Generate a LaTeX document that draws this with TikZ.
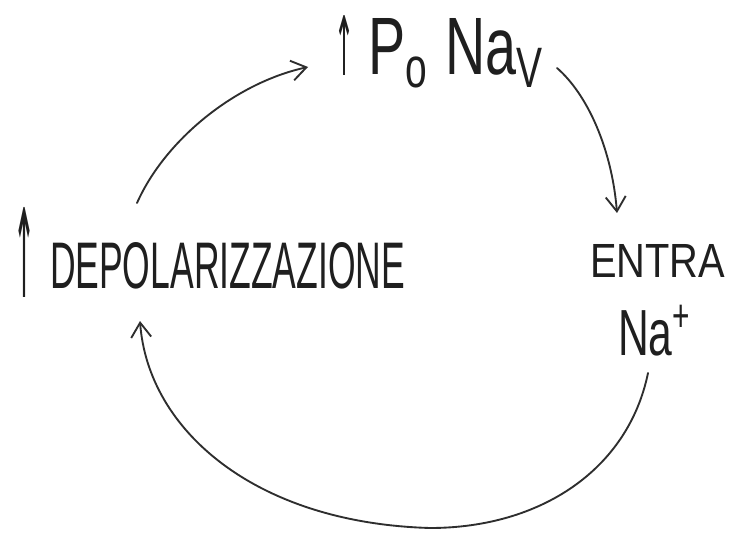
\documentclass[tikz,border=0pt]{standalone}
\usepackage{fontspec}
\usepackage{graphicx}
\setmainfont{Liberation Sans}
\newfontfamily\arrowfont{DejaVu Sans}
\usetikzlibrary{arrows.meta}
\newlength{\pxu}\setlength{\pxu}{0.75pt}
\tikzset{
  lbl/.style={inner sep=0pt, outer sep=0pt, text=black!88},
  flow/.style={draw=black!82, line width=1.4pt, line cap=round,
    -{Straight Barb[length=11pt, width=15pt, line width=1.4pt]}}
}
\begin{document}
\begin{tikzpicture}[x=0.75pt, y=-0.75pt]
  \fill[white] (0,0) rectangle (730,534);
  \path[use as bounding box] (0,0) rectangle (730,534);

  % top label
  \node[lbl, anchor=center] (uptop) at (344,46) {\resizebox{20\pxu}{60\pxu}{\arrowfont ↑}};
  \node[lbl, anchor=base west] (po) at (368,75) {\resizebox{177\pxu}{56\pxu}{P\textsubscript{o} Na\textsubscript{V}}};

  % left label
  \node[lbl, anchor=center] (upleft) at (24,252) {\resizebox{22\pxu}{90\pxu}{\arrowfont ↑}};
  \node[lbl, anchor=base west] (dep) at (50,288) {\resizebox{355\pxu}{46\pxu}{DEPOLARIZZAZIONE}};

  % right label
  \node[lbl, anchor=base west] (entra) at (590,277) {\resizebox{135\pxu}{33\pxu}{ENTRA}};
  \node[lbl, anchor=base west] (na) at (618,355) {\resizebox{74\pxu}{50\pxu}{Na\textsuperscript{+}}};

  % connector end points
  \coordinate (a1s) at (137,203);
  \coordinate (a1e) at (308,67);
  \coordinate (a2s) at (557,68);
  \coordinate (a2e) at (617,213);
  \coordinate (a3s) at (648,373);
  \coordinate (a3m) at (430,528);
  \coordinate (a3e) at (140,321);

  \draw[flow] (a1s) .. controls (165,140) and (235,83) .. (a1e);
  \draw[flow] (a2s) .. controls (588,95) and (612,150) .. (a2e);
  \draw[flow] (a3s) .. controls (628,470) and (540,528) .. (a3m)
                    .. controls (255,523) and (148,430) .. (a3e);
\end{tikzpicture}
\end{document}
